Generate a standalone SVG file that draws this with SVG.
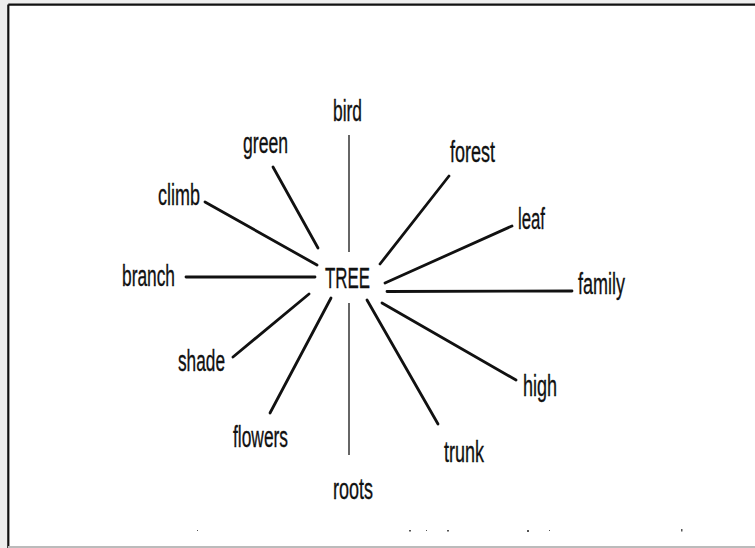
<svg xmlns="http://www.w3.org/2000/svg" width="755" height="548" viewBox="0 0 755 548">
<style>
.lbl{font-family:"Liberation Sans",Arial,sans-serif;font-size:30px;fill:#111;stroke:#111;stroke-width:0.35;}
.ln{stroke:#111;stroke-width:2.8;stroke-linecap:round;fill:none;}
.thin{stroke:#333;stroke-width:1.5;fill:none;}
</style>
<rect x="0" y="0" width="755" height="548" fill="#ffffff"/>
<rect x="0" y="0" width="755" height="4" fill="#eeeeee"/>
<rect x="0" y="0" width="7" height="548" fill="#eeeeee"/>
<line x1="8.3" y1="4.6" x2="755" y2="4.6" stroke="#111" stroke-width="2.4"/>
<line x1="8.3" y1="4.6" x2="8.3" y2="548" stroke="#111" stroke-width="2.2"/>
<line x1="8" y1="547" x2="755" y2="547" stroke="#bbbbbb" stroke-width="2"/>
<g id="connectors">
<line class="thin" x1="349" y1="135" x2="349" y2="252"/>
<line class="ln" x1="273" y1="167" x2="318" y2="248"/>
<line class="ln" x1="205" y1="202" x2="317" y2="265"/>
<line class="ln" x1="186" y1="277" x2="315" y2="277"/>
<line class="ln" x1="449" y1="176" x2="380" y2="264"/>
<line class="ln" x1="512" y1="226" x2="385" y2="283"/>
<line class="ln" x1="387" y1="291.5" x2="572" y2="291" stroke-width="3.3"/>
<line class="ln" x1="309" y1="294" x2="233" y2="357"/>
<line class="ln" x1="331" y1="298" x2="270" y2="413"/>
<line class="thin" x1="349" y1="303" x2="349" y2="455"/>
<line class="ln" x1="367" y1="300" x2="438" y2="424"/>
<line class="ln" x1="382" y1="303" x2="516" y2="380"/>
</g>
<g id="TREE"><text class="lbl" x="325" y="288" textLength="45" lengthAdjust="spacingAndGlyphs">TREE</text></g>
<g id="bird"><text class="lbl" x="333" y="121" textLength="29" lengthAdjust="spacingAndGlyphs">bird</text></g>
<g id="green"><text class="lbl" x="243" y="153" textLength="45" lengthAdjust="spacingAndGlyphs">green</text></g>
<g id="climb"><text class="lbl" x="158" y="205" textLength="42" lengthAdjust="spacingAndGlyphs">climb</text></g>
<g id="branch"><text class="lbl" x="122" y="286" textLength="53" lengthAdjust="spacingAndGlyphs">branch</text></g>
<g id="forest"><text class="lbl" x="450" y="162" textLength="45" lengthAdjust="spacingAndGlyphs">forest</text></g>
<g id="leaf"><text class="lbl" x="518" y="229" textLength="27" lengthAdjust="spacingAndGlyphs">leaf</text></g>
<g id="family"><text class="lbl" x="578" y="294" textLength="47" lengthAdjust="spacingAndGlyphs">family</text></g>
<g id="shade"><text class="lbl" x="178" y="371" textLength="47" lengthAdjust="spacingAndGlyphs">shade</text></g>
<g id="flowers"><text class="lbl" x="233" y="447" textLength="55" lengthAdjust="spacingAndGlyphs">flowers</text></g>
<g id="roots"><text class="lbl" x="333" y="499" textLength="40" lengthAdjust="spacingAndGlyphs">roots</text></g>
<g id="trunk"><text class="lbl" x="444" y="462" textLength="40" lengthAdjust="spacingAndGlyphs">trunk</text></g>
<g id="high"><text class="lbl" x="523" y="396" textLength="34" lengthAdjust="spacingAndGlyphs">high</text></g>
<g fill="#555">
<rect x="197" y="530" width="1" height="1"/>
<rect x="409" y="530" width="2" height="1.5"/>
<rect x="426" y="530" width="1" height="1"/>
<rect x="447" y="530" width="2" height="1.5"/>
<rect x="527" y="530" width="2" height="2"/>
<rect x="549" y="530" width="1" height="1"/>
<rect x="681" y="529" width="1.5" height="2.5"/>
</g>
</svg>
